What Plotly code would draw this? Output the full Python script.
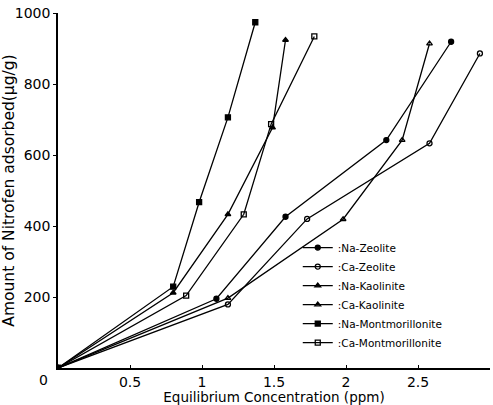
import plotly.graph_objects as go

# Equilibrium concentration (ppm) and amount adsorbed (ug/g)
na_zeo_x = [0, 1.10, 1.58, 2.28, 2.73]
na_zeo_y = [0, 195, 426, 642, 919]
ca_zeo_x = [0, 1.18, 1.73, 2.58, 2.93]
ca_zeo_y = [0, 179, 420, 633, 886]
na_kao_x = [0, 0.80, 1.18, 1.49, 1.58]
na_kao_y = [0, 212, 433, 677, 924]
ca_kao_x = [0, 1.18, 1.98, 2.39, 2.58]
ca_kao_y = [0, 197, 419, 642, 914]
na_mont_x = [0, 0.80, 0.98, 1.18, 1.37]
na_mont_y = [0, 229, 467, 706, 974]
ca_mont_x = [0, 0.89, 1.29, 1.48, 1.78]
ca_mont_y = [0, 204, 433, 687, 934]

series = [
    (":Na-Zeolite", na_zeo_x, na_zeo_y, "circle"),
    (":Ca-Zeolite", ca_zeo_x, ca_zeo_y, "circle-open"),
    (":Na-Kaolinite", na_kao_x, na_kao_y, "triangle-up"),
    (":Ca-Kaolinite", ca_kao_x, ca_kao_y, "triangle-up-open"),
    (":Na-Montmorillonite", na_mont_x, na_mont_y, "square"),
    (":Ca-Montmorillonite", ca_mont_x, ca_mont_y, "square-open"),
]

x_ticks = [0.5, 1, 1.5, 2, 2.5, 3]
x_ticklabels = ["0.5", "1", "1.5", "2", "2.5", "3"]
y_ticks = [200, 400, 600, 800, 1000]

fig = go.Figure()
for name, xs, ys, sym in series:
    fig.add_trace(go.Scatter(
        x=xs, y=ys, name=name, mode="lines+markers",
        line=dict(color="black", width=1.3),
        marker=dict(symbol=sym, size=5, color="black",
                    line=dict(color="black", width=1.3)),
    ))

FONT = "DejaVu Sans"
fig.update_layout(
    width=493, height=405,
    margin=dict(l=58, r=3, t=13, b=37),
    paper_bgcolor="white", plot_bgcolor="white",
    font=dict(family=FONT, color="black", size=13),
    showlegend=True,
    legend=dict(x=0.555, y=0.38, xanchor="left", yanchor="top",
                bgcolor="rgba(0,0,0,0)", font=dict(size=10.5, family=FONT),
                tracegroupgap=0, itemwidth=30),
    xaxis=dict(range=[0, 3], tickvals=x_ticks, ticktext=x_ticklabels,
               showgrid=False, zeroline=False, showline=True,
               linecolor="black", linewidth=1.5, ticks="inside", ticklen=3,
               tickcolor="black", tickfont=dict(size=14),
               title=dict(text="Equilibrium Concentration (ppm)",
                          font=dict(size=13.5), standoff=0)),
    yaxis=dict(range=[0, 1000], tickvals=y_ticks,
               showgrid=False, zeroline=False, showline=True,
               linecolor="black", linewidth=1.5, ticks="outside", ticklen=3,
               tickcolor="black", tickfont=dict(size=14),
               title=dict(text="Amount of Nitrofen adsorbed(μg/g)",
                          font=dict(size=15.5), standoff=2)),
)
fig.add_annotation(x=0, y=0, xref="x", yref="y", text="0", showarrow=False,
                   xanchor="right", yanchor="top", xshift=-8, yshift=-2,
                   font=dict(size=14))

fig.write_html("out.html")
